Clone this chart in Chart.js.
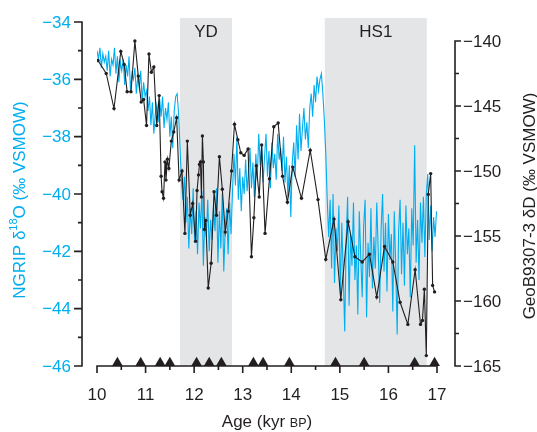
<!DOCTYPE html>
<html>
<head>
<meta charset="utf-8">
<script src="https://cdn.jsdelivr.net/npm/chart.js@4.4.1/dist/chart.umd.min.js"></script>
<style>
  html, body { margin: 0; padding: 0; background: #ffffff; }
  #wrap { width: 537px; height: 432px; }
</style>
</head>
<body>
<div id="wrap"><canvas id="c" width="537" height="432"></canvas></div>
<script>
// Axis ticks
const ageTicks = [10, 11, 12, 13, 14, 15, 16, 17];
const ngripTicks = [-34, -36, -38, -40, -42, -44, -46];
const geobTicks = [-140, -145, -150, -155, -160, -165];

// Climate intervals (kyr BP)
const intervalNames = ['YD', 'HS1'];
const intervalStart = [11.71, 14.69];
const intervalEnd = [12.78, 16.79];

// Age-model tie points (kyr BP)
const datingAges = [10.42, 10.90, 11.30, 11.50, 12.05, 12.31, 12.56, 13.22, 13.42, 13.96, 14.91, 15.50, 16.54, 16.95];
const datingLevel = -45.89;

// NGRIP δ18O (‰ VSMOW), regular 30-yr sampling from 10.00 kyr BP
const ngripStart = 10.0;
const ngripStep = 0.03;
const ngripD18O = [
  -35.0, -35.3, -34.9, -35.6, -35.1, -35.4, -35.2, -35.7, -35.0, -35.9, -35.3, -35.5, -34.9, -35.8, -35.2, -36.1, -35.4,
  -35.7, -35.3, -36.2, -35.5, -35.9, -35.2, -36.4, -35.8, -36.0, -35.6, -36.5, -35.9, -36.3, -35.7, -36.8, -36.1, -36.6,
  -36.4, -37.1, -36.6, -37.6, -36.8, -37.9, -37.2, -36.9, -37.5, -36.7, -37.3, -36.6, -37.7, -37.0, -37.4, -36.8, -38.0,
  -37.3, -38.4, -37.1, -36.6, -36.5, -37.2, -38.4, -39.6,
  -40.2, -39.4, -41.0, -40.1, -41.9, -40.5, -41.4, -39.8, -41.7,
  -40.6, -42.1, -40.3, -41.2, -39.9, -42.5, -40.8, -41.5, -40.2, -42.0, -40.9, -41.6, -40.4,
  -41.3, -39.8, -42.4, -40.6, -41.9, -40.0, -42.7, -41.2, -40.5, -42.1, -40.3, -41.4, -39.9,
  -38.6, -39.7, -38.0, -40.2, -39.1, -40.6, -39.4, -40.0, -38.8, -39.9,
  -39.2, -38.4, -39.8, -38.9, -40.1, -38.6, -39.5, -37.9, -39.0, -38.3, -39.6,
  -38.7, -37.9, -39.4, -38.5, -39.8, -38.2, -39.1, -38.6, -39.5, -37.9, -38.8,
  -38.4, -39.2, -38.0, -39.6, -38.7, -40.1, -39.0, -40.8, -38.9,
  -38.2, -39.4, -37.6, -38.8, -37.2, -38.5, -37.7, -37.0, -38.1, -37.5, -38.4,
  -37.0, -36.5, -37.3, -36.2, -36.8, -35.9, -36.4, -36.0, -35.8,
  -36.5, -37.4, -38.6, -40.2,
  -41.5, -40.2, -42.6, -40.0, -43.1, -41.2, -42.0, -40.4, -43.5, -41.0, -42.8, -44.8, -41.6, -40.1, -43.9, -41.4,
  -42.5, -40.3, -43.0, -41.8, -44.2, -40.6, -42.2, -43.6, -41.1, -40.2, -44.3, -41.7, -42.9, -40.5, -43.3, -41.5,
  -42.6, -40.3, -42.0, -43.8, -41.2, -40.0, -42.7, -41.0, -43.4, -40.7, -42.3, -41.4, -44.1, -40.6, -42.5, -44.9,
  -41.3, -40.2, -42.8, -41.0, -43.2, -40.4, -42.1, -41.2, -43.6, -40.5, -41.8, -38.3, -42.4, -40.9, -43.0, -40.3,
  -41.7, -40.1, -42.2, -40.0,
  -39.3, -41.6, -40.4, -42.0, -40.8, -41.5, -40.6
];

// GeoB9307-3 leaf-wax δD (‰ VSMOW)
const geobAges = [
  10.02, 10.19, 10.35, 10.49, 10.56, 10.62, 10.70, 10.78, 10.85, 10.91, 10.96, 11.02, 11.07, 11.12, 11.17, 11.23,
  11.28, 11.32, 11.34, 11.37, 11.40, 11.42, 11.45, 11.48, 11.53, 11.58, 11.64, 11.69, 11.75, 11.81, 11.86, 11.92,
  11.97, 12.03, 12.06, 12.09, 12.11, 12.13, 12.15, 12.17, 12.19, 12.21, 12.24, 12.29, 12.35, 12.41, 12.46, 12.52,
  12.58, 12.64, 12.70, 12.77, 12.83, 12.90, 12.96, 13.03, 13.11, 13.18, 13.23, 13.28, 13.34, 13.39, 13.46, 13.55,
  13.64, 13.73, 13.82, 13.92, 14.03, 14.21, 14.39, 14.55, 14.71, 14.88, 15.02, 15.17, 15.31, 15.46, 15.61, 15.76,
  15.92, 16.09, 16.24, 16.40, 16.55, 16.66, 16.70, 16.74, 16.78, 16.82, 16.87, 16.91, 16.95
];
const geobDD = [
  -141.5, -142.5, -145.2, -140.8, -141.8, -143.9, -143.9, -140.0, -142.7, -144.7, -144.5, -146.5, -141.0, -142.4, -142.0, -146.5,
  -144.2, -150.4, -151.6, -152.1, -149.3, -150.7, -149.1, -149.8, -147.7, -147.0, -145.9, -150.7, -150.0, -154.8, -147.7, -153.4,
  -152.5, -155.4, -151.5, -150.3, -149.5, -149.3, -152.0, -147.3, -149.3, -154.5, -153.8, -159.0, -157.1, -151.6, -153.4, -148.9,
  -151.4, -154.7, -153.1, -150.0, -146.4, -147.6, -148.6, -148.8, -148.3, -156.6, -153.6, -149.6, -152.0, -148.0, -154.8, -150.6,
  -146.6, -146.3, -150.4, -152.4, -149.7, -152.1, -148.4, -152.2, -156.8, -153.7, -159.9, -153.9, -156.6, -157.0, -156.4, -159.7,
  -155.8, -157.0, -160.1, -161.8, -157.6, -161.8, -161.5, -159.1, -164.2, -151.8, -150.2, -158.8, -159.3
];

const INK = '#231f20';
const CYAN = '#00aeef';
const SHADE = '#e4e5e7';
const FONT_FAMILY = '"Liberation Sans", Arial, Helvetica, sans-serif';

function font(size) { return size + 'px ' + FONT_FAMILY; }

// Grey bands behind the records
const bandsPlugin = {
  id: 'bands',
  beforeDatasetsDraw(chart) {
    const { ctx, chartArea, scales } = chart;
    const x = scales.x;
    ctx.save();
    ctx.fillStyle = SHADE;
    for (let i = 0; i < intervalNames.length; i++) {
      const x0 = x.getPixelForValue(intervalStart[i]);
      const x1 = x.getPixelForValue(intervalEnd[i]);
      ctx.fillRect(x0, chartArea.top - 4, x1 - x0, chartArea.bottom - chartArea.top + 4);
    }
    ctx.fillStyle = INK;
    ctx.font = font(17);
    ctx.textAlign = 'center';
    ctx.textBaseline = 'middle';
    for (let i = 0; i < intervalNames.length; i++) {
      const xc = (x.getPixelForValue(intervalStart[i]) + x.getPixelForValue(intervalEnd[i])) / 2;
      ctx.fillText(intervalNames[i], xc, chartArea.top + 10);
    }
    ctx.restore();
  }
};

// Detached axes, ticks and titles
const axesPlugin = {
  id: 'axes',
  afterDraw(chart) {
    const { ctx, chartArea, scales } = chart;
    const x = scales.x, yL = scales.yL, yR = scales.yR;
    ctx.save();
    ctx.strokeStyle = INK;
    ctx.lineWidth = 1.6;
    ctx.lineCap = 'butt';

    // left axis (NGRIP)
    const xl = 82;
    ctx.beginPath();
    ctx.moveTo(xl, yL.getPixelForValue(ngripTicks[0]) - 0.8);
    ctx.lineTo(xl, yL.getPixelForValue(ngripTicks[ngripTicks.length - 1]) + 0.8);
    for (let i = 0; i < ngripTicks.length; i++) {
      const py = yL.getPixelForValue(ngripTicks[i]);
      ctx.moveTo(xl, py); ctx.lineTo(xl - 8, py);
      if (i < ngripTicks.length - 1) {
        const pm = yL.getPixelForValue((ngripTicks[i] + ngripTicks[i + 1]) / 2);
        ctx.moveTo(xl, pm); ctx.lineTo(xl - 4, pm);
      }
    }
    ctx.stroke();
    ctx.fillStyle = CYAN;
    ctx.font = font(17);
    ctx.textAlign = 'right';
    ctx.textBaseline = 'middle';
    ngripTicks.forEach(v => ctx.fillText('\u2212' + Math.abs(v), xl - 11, yL.getPixelForValue(v) + 1));

    // right axis (GeoB9307-3)
    const xr = 455;
    ctx.beginPath();
    ctx.moveTo(xr, yR.getPixelForValue(geobTicks[0]) - 0.8);
    ctx.lineTo(xr, yR.getPixelForValue(geobTicks[geobTicks.length - 1]) + 0.8);
    for (let i = 0; i < geobTicks.length; i++) {
      const py = yR.getPixelForValue(geobTicks[i]);
      ctx.moveTo(xr, py); ctx.lineTo(xr + 6, py);
      if (i < geobTicks.length - 1) {
        const pm = yR.getPixelForValue((geobTicks[i] + geobTicks[i + 1]) / 2);
        ctx.moveTo(xr, pm); ctx.lineTo(xr + 4, pm);
      }
    }
    ctx.stroke();
    ctx.fillStyle = INK;
    ctx.textAlign = 'left';
    geobTicks.forEach(v => ctx.fillText('\u2212' + Math.abs(v), xr + 8, yR.getPixelForValue(v) + 1));

    // bottom axis (age)
    const yb = chartArea.bottom;
    ctx.beginPath();
    ctx.moveTo(x.getPixelForValue(ageTicks[0]) - 0.8, yb);
    ctx.lineTo(x.getPixelForValue(ageTicks[ageTicks.length - 1]) + 0.8, yb);
    for (let i = 0; i < ageTicks.length; i++) {
      const px = x.getPixelForValue(ageTicks[i]);
      ctx.moveTo(px, yb); ctx.lineTo(px, yb + 7);
      if (i < ageTicks.length - 1) {
        const pm = x.getPixelForValue((ageTicks[i] + ageTicks[i + 1]) / 2);
        ctx.moveTo(pm, yb); ctx.lineTo(pm, yb + 4);
      }
    }
    ctx.stroke();
    ctx.textAlign = 'center';
    ctx.textBaseline = 'middle';
    ageTicks.forEach(v => ctx.fillText(String(v), x.getPixelForValue(v), yb + 29));

    // x title with small-caps BP
    const xc = (chartArea.left + chartArea.right) / 2;
    const parts = [['Age (kyr ', 17], ['BP', 12.5], [')', 17]];
    let total = 0;
    parts.forEach(p => { ctx.font = font(p[1]); total += ctx.measureText(p[0]).width; });
    let cx = xc - total / 2;
    ctx.textAlign = 'left';
    ctx.textBaseline = 'alphabetic';
    parts.forEach(p => { ctx.font = font(p[1]); ctx.fillText(p[0], cx, 427); cx += ctx.measureText(p[0]).width; });

    // left title, rotated, with superscript 18
    const lt = [['NGRIP \u03b4', 17, 0], ['18', 11, -6], ['O (\u2030 VSMOW)', 17, 0]];
    drawRotated(ctx, lt, 20, 200, CYAN);

    // right title, rotated
    const rt = [['GeoB9307-3 \u03b4D (\u2030 VSMOW)', 17, 0]];
    drawRotated(ctx, rt, 530, 206, INK);

    ctx.restore();
  }
};

function drawRotated(ctx, parts, cx, cy, color) {
  ctx.save();
  ctx.translate(cx, cy);
  ctx.rotate(-Math.PI / 2);
  ctx.fillStyle = color;
  ctx.textBaseline = 'middle';
  ctx.textAlign = 'left';
  let total = 0;
  parts.forEach(p => { ctx.font = font(p[1]); total += ctx.measureText(p[0]).width; });
  let px = -total / 2;
  parts.forEach(p => {
    ctx.font = font(p[1]);
    ctx.fillText(p[0], px, p[2]);
    px += ctx.measureText(p[0]).width;
  });
  ctx.restore();
}

new Chart(document.getElementById('c').getContext('2d'), {
  type: 'scatter',
  data: {
    datasets: [
      {
        label: 'Age tie points',
        data: datingAges.map(a => ({ x: a, y: datingLevel })),
        yAxisID: 'yL',
        showLine: false,
        pointStyle: 'triangle',
        pointRadius: 6.2,
        pointHoverRadius: 6.2,
        backgroundColor: INK,
        borderColor: INK,
        borderWidth: 0,
        clip: false,
        order: 0
      },
      {
        label: 'GeoB9307-3 δD',
        data: geobAges.map((a, i) => ({ x: a, y: geobDD[i] })),
        yAxisID: 'yR',
        showLine: true,
        borderColor: INK,
        backgroundColor: INK,
        borderWidth: 1.1,
        pointRadius: 1.7,
        pointBorderWidth: 0,
        pointHoverRadius: 1.7,
        order: 1
      },
      {
        label: 'NGRIP δ18O',
        data: ngripD18O.map((v, i) => ({ x: ngripStart + i * ngripStep, y: v })),
        yAxisID: 'yL',
        showLine: true,
        borderColor: CYAN,
        backgroundColor: CYAN,
        borderWidth: 1.1,
        pointRadius: 0,
        pointHoverRadius: 0,
        order: 2
      }
    ]
  },
  options: {
    responsive: false,
    animation: false,
    devicePixelRatio: 1,
    layout: { padding: { left: 97, right: 100, top: 22, bottom: 66 } },
    scales: {
      x: { type: 'linear', min: 10, max: 17, display: false },
      yL: { type: 'linear', position: 'left', min: -46, max: -34, display: false },
      yR: { type: 'linear', position: 'right', min: -165, max: -138.54, display: false }
    },
    plugins: {
      legend: { display: false },
      tooltip: { enabled: false }
    },
    events: []
  },
  plugins: [bandsPlugin, axesPlugin]
});
</script>
</body>
</html>
